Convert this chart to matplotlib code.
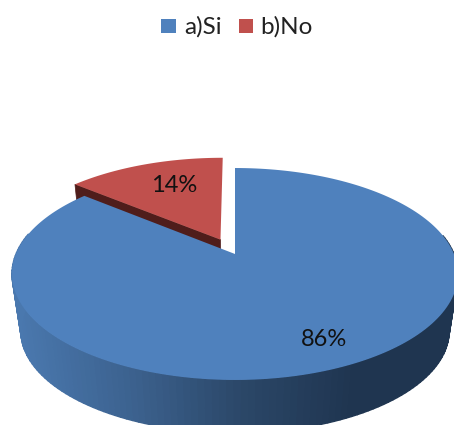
import numpy as np
import matplotlib
matplotlib.use("Agg")
import matplotlib.pyplot as plt
from matplotlib.colors import LinearSegmentedColormap
from matplotlib.collections import PolyCollection
from matplotlib.patches import Polygon, Rectangle

plt.rcParams['font.family'] = ['Lato', 'DejaVu Sans']

labels = ['a)Si', 'b)No']
values = [86, 14]
pct_labels = ['86%', '14%']

top_color = ['#4f81bd', '#c0504d']
red_side = '#4f1d1b'


# unit disc -> pixels, with a bit of perspective (far side is smaller)
def project(u, v, drop=0, shrink=1.0):
    w = 1 + 0.1886 * v
    x = 235 + 219 * shrink * u / w
    y = 254 + drop - 102.2 * shrink * v / w
    return x, y


def slice_edge(start, end, offset=0.0):
    # angles are clockwise from the top, in degrees
    t = np.radians(np.linspace(start, end, 200))
    mid = np.radians((start + end) / 2)
    return np.sin(t) + offset * np.sin(mid), np.cos(t) + offset * np.cos(mid), \
        offset * np.sin(mid), offset * np.cos(mid)


fig = plt.figure(figsize=(4.54, 4.25), dpi=100)
ax = fig.add_axes([0, 0, 1, 1])
ax.set_xlim(0, 454)
ax.set_ylim(425, 0)
ax.axis('off')

blue_end = 360 * values[0] / sum(values)
drop = 58
shrink = 0.96

# red slice, pulled out of the pie
u, v, cu, cv = slice_edge(blue_end, 360, offset=0.16)
px, py = project(u, v)
ax_x, ax_y = project(cu, cv)
lx0, ly0 = project(u[0], v[0], drop, shrink)
lxa, lya = project(cu, cv, drop, shrink)
ax.add_patch(Polygon([(px[0], py[0]), (ax_x, ax_y), (lxa, lya), (lx0, ly0)],
                     facecolor=red_side, edgecolor=red_side, lw=0.5))
ax.add_patch(Polygon(np.r_[[(ax_x, ax_y)], np.c_[px, py]],
                     facecolor=top_color[1], edgecolor='none'))

# blue slice side wall, shaded left to right (back part is hidden, skip it)
u, v, cu, cv = slice_edge(0, blue_end)
px, py = project(u, v)
qx, qy = project(u, v, drop, shrink)
quads = []
mids = []
for i in range(len(u) - 1):
    if v[i] > 0.2:
        continue
    quads.append([(px[i], py[i]), (px[i + 1], py[i + 1]),
                  (qx[i + 1], qy[i + 1]), (qx[i], qy[i])])
    mids.append((px[i] + px[i + 1]) / 2)
cmap = LinearSegmentedColormap.from_list('side', ['#4a78ae', '#3c628f', '#2b4768', '#1f3550'])
cols = cmap(np.clip((np.array(mids) - 15) / 340, 0, 1))
ax.add_collection(PolyCollection(quads, facecolors=cols, edgecolors=cols, linewidths=1.0))

# blue top
ax_x, ax_y = project(cu, cv)
ax.add_patch(Polygon(np.r_[[(ax_x, ax_y)], np.c_[px, py]],
                     facecolor=top_color[0], edgecolor='none'))

# percent labels
mid_blue = np.radians(blue_end / 2)
x86, y86 = project(0.82 * np.sin(mid_blue), 0.80 * np.cos(mid_blue))
ax.text(x86, y86, pct_labels[0], ha='center', va='center', fontsize=17, color='#111111')
mid_red = np.radians((blue_end + 360) / 2)
x14, y14 = project(0.88 * np.sin(mid_red) * 0.85, 0.85 * np.cos(mid_red))
ax.text(x14, y14, pct_labels[1], ha='center', va='center', fontsize=17, color='#111111')

# legend
ax.add_patch(Rectangle((161, 19), 15, 14, facecolor=top_color[0], edgecolor='none'))
ax.text(184, 27, labels[0], ha='left', va='center', fontsize=17.5, color='#222222')
ax.add_patch(Rectangle((239, 19), 14, 14, facecolor=top_color[1], edgecolor='none'))
ax.text(260, 27, labels[1], ha='left', va='center', fontsize=17.5, color='#222222')

fig.savefig('out.png', dpi=100)
